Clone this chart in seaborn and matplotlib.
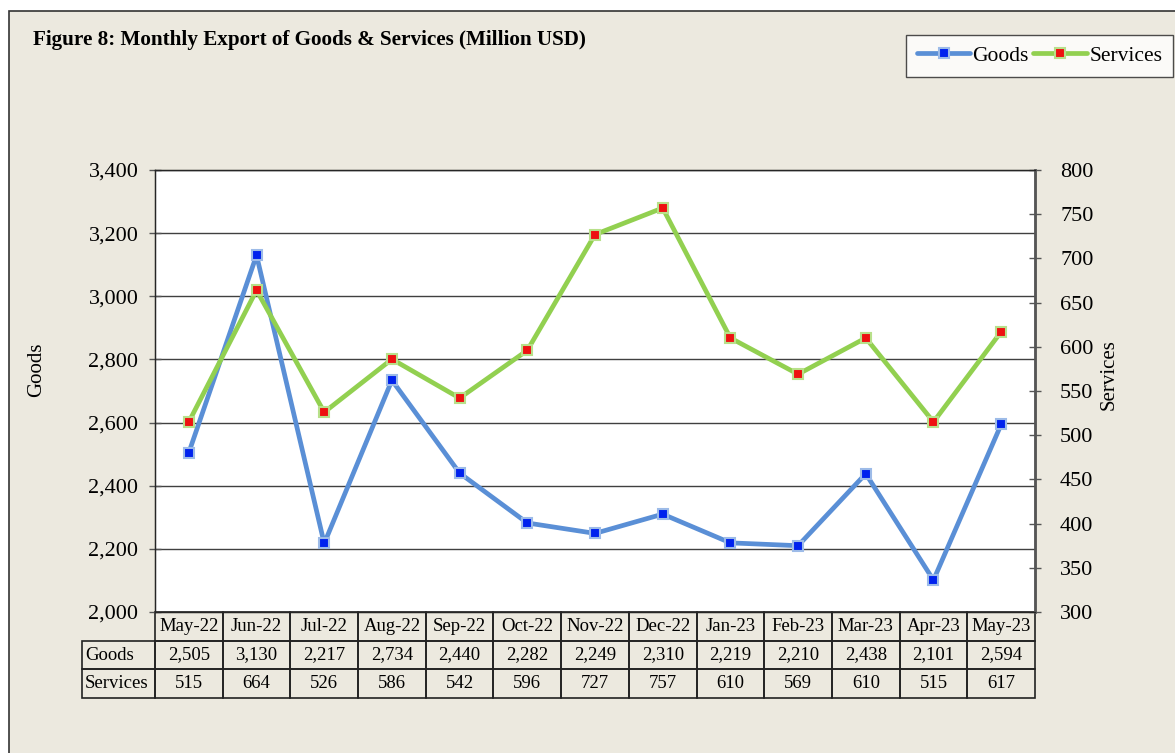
import numpy as np
import pandas as pd
import matplotlib
matplotlib.use("Agg")
import matplotlib.pyplot as plt
import seaborn as sns

# data
months = ['May-22', 'Jun-22', 'Jul-22', 'Aug-22', 'Sep-22', 'Oct-22', 'Nov-22',
          'Dec-22', 'Jan-23', 'Feb-23', 'Mar-23', 'Apr-23', 'May-23']
goods = [2505, 3130, 2217, 2734, 2440, 2282, 2249, 2310, 2219, 2210, 2438, 2101, 2594]
services = [515, 664, 526, 586, 542, 596, 727, 757, 610, 569, 610, 515, 617]

bg = '#ECE9DF'
blue = '#5A8FD6'
green = '#92D050'

sns.set_style("white")
plt.rcParams['font.family'] = ['Liberation Serif', 'DejaVu Serif']
plt.rcParams['text.color'] = 'black'
plt.rcParams['xtick.color'] = 'black'
plt.rcParams['ytick.color'] = 'black'
plt.rcParams['axes.labelcolor'] = 'black'

df = pd.DataFrame({'idx': np.arange(len(months)), 'goods': goods, 'services': services})

fig = plt.figure(figsize=(11.75, 7.53), dpi=100)
fig.patch.set_facecolor('white')
# beige panel with frame
panel = plt.Rectangle((9 / 1175, -0.02), 1.1, (753 - 11) / 753 + 0.02,
                      transform=fig.transFigure, facecolor=bg, edgecolor='#333333',
                      lw=1.2, zorder=-10)
fig.patches.append(panel)

ax = fig.add_axes([155 / 1175, 1 - 612 / 753, 880 / 1175, 442 / 753])
ax.set_facecolor('white')
ax2 = ax.twinx()

sns.lineplot(data=df, x='idx', y='goods', ax=ax, color=blue, lw=3.4,
             marker='s', markersize=7, markerfacecolor='#0022EE',
             markeredgecolor='#9DBBE8', markeredgewidth=1.5, label='Goods', legend=False)
sns.lineplot(data=df, x='idx', y='services', ax=ax2, color=green, lw=3.4,
             marker='s', markersize=7, markerfacecolor='#EE1111',
             markeredgecolor='#B8E08A', markeredgewidth=1.5, label='Services', legend=False)

ax.set_xlim(-0.5, len(months) - 0.5)
ax.set_ylim(2000, 3400)
ax2.set_ylim(300, 800)
ax.set_yticks(range(2000, 3401, 200))
ax.set_yticklabels([f'{v:,}' for v in range(2000, 3401, 200)], fontsize=16)
ax2.set_yticks(range(300, 801, 50))
ax2.set_yticklabels([str(v) for v in range(300, 801, 50)], fontsize=16)
ax.set_xticks([])
ax.grid(axis='y', color='#404040', lw=1)
ax.set_axisbelow(True)
ax.tick_params(axis='y', direction='inout', length=8, width=1, color='#555555', pad=8, left=True)
ax2.tick_params(axis='y', direction='inout', length=8, width=1, color='#555555', pad=14, right=True)
for sp in ax.spines.values():
    sp.set_color('#222222')
    sp.set_linewidth(1)
ax2.spines['right'].set_color('#555555')
ax2.spines['right'].set_linewidth(2)
ax.set_xlabel('')
ax.set_ylabel('')
ax2.set_ylabel('')

fig.text(37 / 1175, 1 - 370 / 753, 'Goods', rotation=90, ha='center', va='center', fontsize=15)
fig.text(1109 / 1175, 1 - 375 / 753, 'Services', rotation=90, ha='center', va='center', fontsize=15)

fig.text(33 / 1175, 1 - 40 / 753, 'Figure 8: Monthly Export of Goods & Services (Million USD)',
         fontsize=15.2, fontweight='bold', ha='left', va='center')

# data table under the chart
cell_text = [[''] + months,
             ['Goods'] + [f'{v:,}' for v in goods],
             ['Services'] + [str(v) for v in services]]
lab_w = 73 / 880
col_w = 1 / len(months)
tbl = ax.table(cellText=cell_text, cellLoc='center',
               colWidths=[lab_w] + [col_w] * len(months),
               bbox=[-lab_w, -86 / 442, 1 + lab_w, 86 / 442])
tbl.auto_set_font_size(False)
tbl.set_fontsize(13.5)
for (r, c), cell in tbl.get_celld().items():
    cell.set_facecolor('none')
    cell.set_edgecolor('#222222')
    cell.set_linewidth(1.2)
    if c == 0:
        cell.get_text().set_ha('left')
        cell._loc = 'left'
        cell.PAD = 0.04
    if r == 0 and c == 0:
        cell.visible_edges = ''

h1, l1 = ax.get_legend_handles_labels()
h2, l2 = ax2.get_legend_handles_labels()
leg = fig.legend(h1 + h2, l1 + l2, loc='upper right', bbox_to_anchor=(1173 / 1175, 1 - 35 / 753),
                 ncol=2, fontsize=15.5, frameon=True, fancybox=False, handlelength=2.5,
                 columnspacing=0.2, handletextpad=0.1, borderpad=0.5, borderaxespad=0)
leg.get_frame().set_edgecolor('#222222')
leg.get_frame().set_linewidth(1)

fig.savefig('out.png', dpi=100, facecolor=fig.get_facecolor())
